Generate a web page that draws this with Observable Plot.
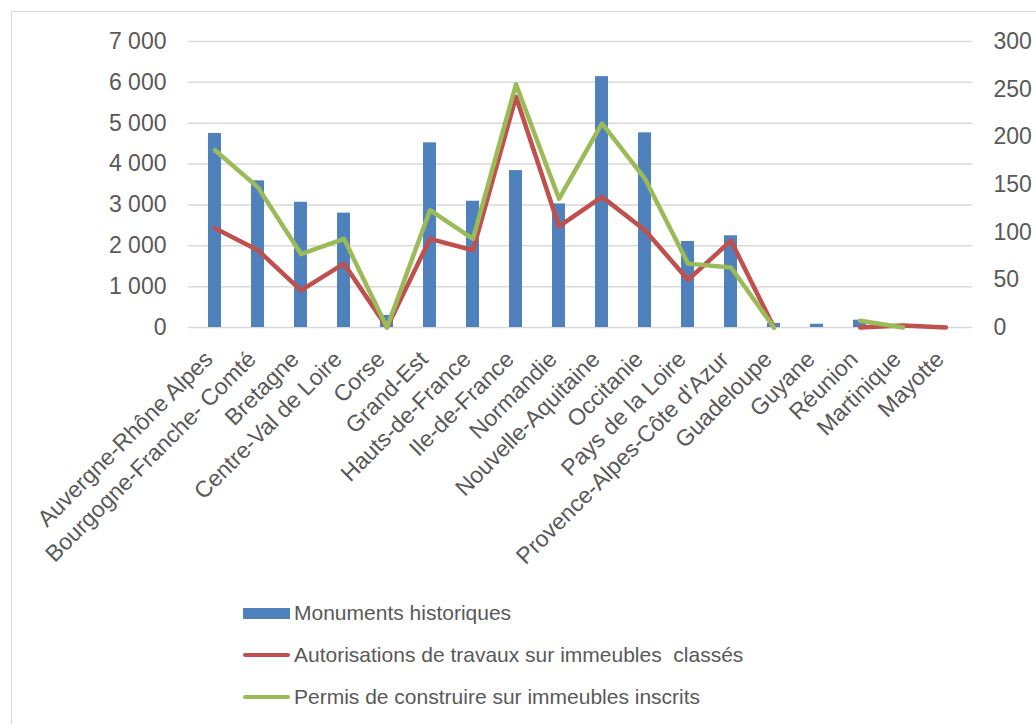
<!DOCTYPE html>
<html>
<head>
<meta charset="utf-8">
<script src="https://cdn.jsdelivr.net/npm/d3@7"></script>
<script src="https://cdn.jsdelivr.net/npm/@observablehq/plot@0.6"></script>
<style>
  html, body { margin: 0; padding: 0; background: #fff; }
  body { width: 1036px; height: 724px; overflow: hidden; font-family: "Liberation Sans", Arial, sans-serif; }
  #wrap { position: relative; width: 1036px; height: 724px; }
  #frame { position: absolute; left: 11px; top: 11px; width: 1100px; height: 800px; border-left: 1.5px solid #D9D9D9; border-top: 1.5px solid #D9D9D9; }
  #chart { position: absolute; left: 0; top: 0; }
  .leg { position: absolute; left: 243px; height: 24px; display: flex; align-items: center; font-size: 21px; color: #595959; white-space: pre; }
  .sw { display: inline-block; width: 47px; margin-right: 4px; }
</style>
</head>
<body>
<div id="wrap">
  <div id="frame"></div>
  <div id="chart"></div>
  <div class="leg" style="top:601px"><span class="sw" style="height:11px;background:#4F81BD"></span>Monuments historiques</div>
  <div class="leg" style="top:643px"><span class="sw" style="height:4px;border-radius:2px;background:#C0504D"></span>Autorisations de travaux sur immeubles  classés</div>
  <div class="leg" style="top:685px"><span class="sw" style="height:4px;border-radius:2px;background:#9BBB59"></span>Permis de construire sur immeubles inscrits</div>
</div>
<script>
const regions = ["Auvergne-Rhône Alpes", "Bourgogne-Franche- Comté", "Bretagne", "Centre-Val de Loire", "Corse", "Grand-Est", "Hauts-de-France", "Ile-de-France", "Normandie", "Nouvelle-Aquitaine", "Occitanie", "Pays de la Loire", "Provence-Alpes-Côte d'Azur", "Guadeloupe", "Guyane", "Réunion", "Martinique", "Mayotte"];
const monuments = [4750, 3590, 3065, 2800, 295, 4520, 3090, 3840, 3025, 6140, 4765, 2105, 2245, 100, 80, 180, 0, 0];
const autorisations = [104, 81, 39, 67, 0, 93, 81, 242, 106, 137, 102, 50, 91, 0, null, 0, 2, 0];
const permis = [186, 147, 77, 93, 0, 123, 93, 255, 135, 214, 156, 67, 63, 0, null, 7, 0, null];
const leftTicks = [0, 1000, 2000, 3000, 4000, 5000, 6000, 7000];
const rightTicks = [0, 50, 100, 150, 200, 250, 300];
const leftMax = 7000, rightMax = 300;

const k = leftMax / rightMax;
const bars = regions.map((r, i) => ({region: r, value: monuments[i]}));
const red = regions.map((r, i) => ({region: r, value: autorisations[i] == null ? NaN : autorisations[i] * k}));
const green = regions.map((r, i) => ({region: r, value: permis[i] == null ? NaN : permis[i] * k}));
const fmt = d => d3.format(",")(d).replace(/,/g, " ");
const textColor = "#595959";

const chart = Plot.plot({
  width: 1036,
  height: 590,
  marginLeft: 188,
  marginRight: 64,
  marginTop: 41,
  marginBottom: 263,
  style: {fontFamily: "Liberation Sans, Arial, sans-serif", color: textColor, background: "transparent"},
  x: {domain: regions, padding: 0, label: null, axis: null},
  y: {domain: [0, leftMax], label: null},
  marks: [
    Plot.gridY(leftTicks, {stroke: "#D9D9D9", strokeOpacity: 1, strokeWidth: 1.5}),
    Plot.axisY(leftTicks, {anchor: "left", tickFormat: fmt, tickSize: 0, tickPadding: 22, fontSize: 23, fill: textColor, label: null}),
    Plot.axisY(rightTicks.map(v => v * k), {anchor: "right", tickFormat: d => fmt(Math.round(d / k)), tickSize: 0, tickPadding: 21, fontSize: 23, fill: textColor, textAnchor: "start", label: null}),
    Plot.text(regions, {x: d => d, frameAnchor: "bottom", text: d => d, rotate: -45, textAnchor: "end", lineAnchor: "middle", dx: -6, dy: 28, fontSize: 23, fill: textColor}),
    Plot.barY(bars, {x: "region", y: "value", fill: "#4F81BD", insetLeft: 15, insetRight: 15}),
    Plot.line(red, {x: "region", y: "value", stroke: "#C0504D", strokeWidth: 4.5, curve: "linear"}),
    Plot.line(green, {x: "region", y: "value", stroke: "#9BBB59", strokeWidth: 4.5, curve: "linear"})
  ]
});
document.getElementById("chart").appendChild(chart);
</script>
</body>
</html>
